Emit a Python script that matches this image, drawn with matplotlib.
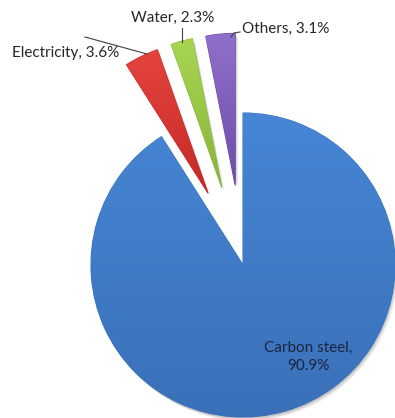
import numpy as np
import matplotlib
matplotlib.use("Agg")
import matplotlib.pyplot as plt
from matplotlib.colors import LinearSegmentedColormap

labels = ["Carbon steel", "Electricity", "Water", "Others"]
shares = [90.9, 3.6, 2.3, 3.1]

# top / bottom shade of each slice
tops = ["#4686d5", "#e5443e", "#a9d651", "#9170cc"]
bottoms = ["#3a70b8", "#c42a26", "#86b53a", "#6c4ca6"]

W, H = 395, 418
fig = plt.figure(figsize=(W / 100, H / 100), dpi=100)
ax = fig.add_axes([0, 0, 1, 1])
plt.rcParams['font.family'] = ['Lato', 'DejaVu Sans']

radius = 152
center = (243, 153)
explode = [0] + [80] * (len(shares) - 1)

# soft shadow under the slices
for dx, dy, a in [(3, -4, 0.06), (2, -3, 0.08), (1, -2, 0.10)]:
    ax.pie(shares, explode=explode, radius=radius, center=(center[0] + dx, center[1] + dy),
           startangle=90, counterclock=False, colors=["black"] * 4,
           wedgeprops=dict(alpha=a, linewidth=0))

wedges, _ = ax.pie(shares, explode=explode, radius=radius, center=center,
                   startangle=90, counterclock=False, colors=tops,
                   wedgeprops=dict(linewidth=0.8))

grad = np.linspace(0, 1, 256).reshape(-1, 1)
for w, c0, c1 in zip(wedges, tops, bottoms):
    w.set_edgecolor(c1)
    cm = LinearSegmentedColormap.from_list("g", [c0, c1])
    verts = w.get_path().vertices
    x0, x1 = verts[:, 0].min(), verts[:, 0].max()
    y0, y1 = verts[:, 1].min(), verts[:, 1].max()
    im = ax.imshow(grad, cmap=cm, extent=(x0, x1, y0, y1), origin="upper",
                   aspect="auto", zorder=w.get_zorder() + 0.1)
    im.set_clip_path(w)

ax.set_xlim(0, W)
ax.set_ylim(0, H)
ax.set_aspect("equal")
ax.axis("off")

txt = "#262626"
fs = 11
ax.text(308, H - 357, "%s,\n%.1f%%" % (labels[0], shares[0]), ha="center", va="center",
        fontsize=fs, color="#1a2540", linespacing=1.45, zorder=10)

ax.text(12, H - 53, "%s, %.1f%%" % (labels[1], shares[1]), ha="left", va="center",
        fontsize=fs, color=txt, zorder=10)
ax.plot([85, 147], [H - 37, H - 54], color="#404040", lw=0.8, zorder=10)

ax.text(173, H - 18, "%s, %.1f%%" % (labels[2], shares[2]), ha="center", va="center",
        fontsize=fs, color=txt, zorder=10)
ax.plot([182, 182], [H - 28, H - 42], color="#404040", lw=0.8, zorder=10)

ax.text(242, H - 29, "%s, %.1f%%" % (labels[3], shares[3]), ha="left", va="center",
        fontsize=fs, color=txt, zorder=10)
ax.plot([240, 234, 231], [H - 32, H - 33, H - 37], color="#404040", lw=0.8, zorder=10)

fig.savefig("out.png", dpi=100, facecolor="white")
